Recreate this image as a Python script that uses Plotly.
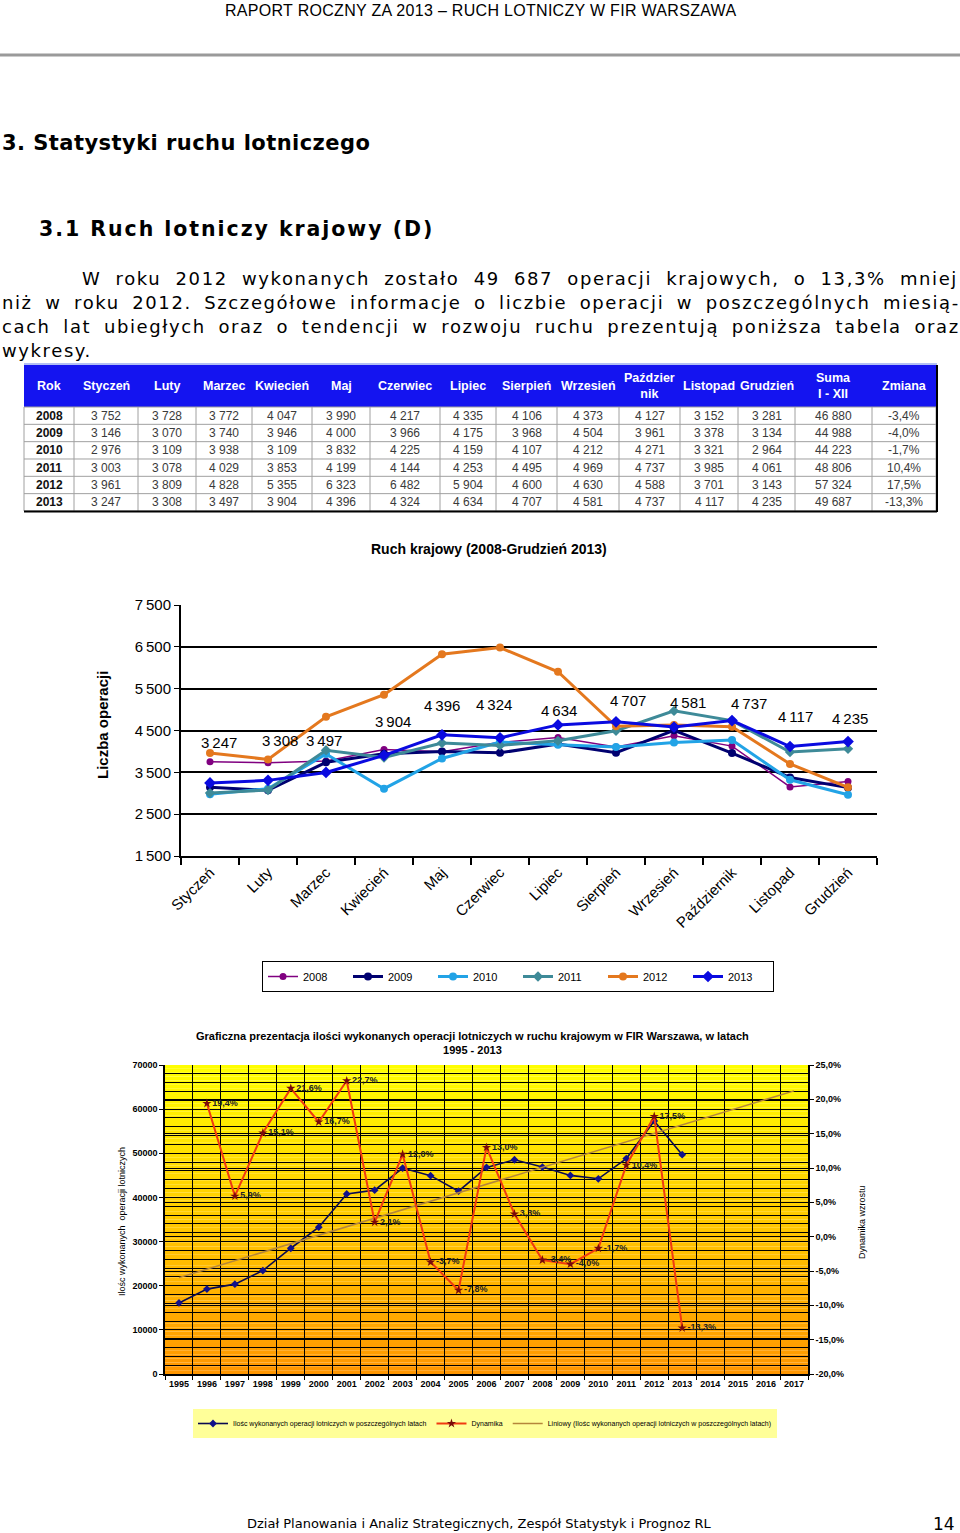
import numpy as np
import plotly.graph_objects as go

W, H = 960, 1533


def px(x):
    return x / W


def py(y):
    return 1 - y / H


# ---------------- data: monthly domestic operations (table + chart 1) ----------------
months = ["Styczeń", "Luty", "Marzec", "Kwiecień", "Maj", "Czerwiec", "Lipiec",
          "Sierpień", "Wrzesień", "Październik", "Listopad", "Grudzień"]
table_headers = ["Rok", "Styczeń", "Luty", "Marzec", "Kwiecień", "Maj", "Czerwiec", "Lipiec",
                 "Sierpień", "Wrzesień", "Paździer<br>nik", "Listopad", "Grudzień",
                 "Suma<br>I - XII", "Zmiana"]
year_labels = ["2008", "2009", "2010", "2011", "2012", "2013"]
ops_2008 = [3752, 3728, 3772, 4047, 3990, 4217, 4335, 4106, 4373, 4127, 3152, 3281]
ops_2009 = [3146, 3070, 3740, 3946, 4000, 3966, 4175, 3968, 4504, 3961, 3378, 3134]
ops_2010 = [2976, 3109, 3938, 3109, 3832, 4225, 4159, 4107, 4212, 4271, 3321, 2964]
ops_2011 = [3003, 3078, 4029, 3853, 4199, 4144, 4253, 4495, 4969, 4737, 3985, 4061]
ops_2012 = [3961, 3809, 4828, 5355, 6323, 6482, 5904, 4600, 4630, 4588, 3701, 3143]
ops_2013 = [3247, 3308, 3497, 3904, 4396, 4324, 4634, 4707, 4581, 4737, 4117, 4235]
year_totals = [46880, 44988, 44223, 48806, 57324, 49687]
year_change = ["-3,4%", "-4,0%", "-1,7%", "10,4%", "17,5%", "-13,3%"]
chart1_yticks = [1500, 2500, 3500, 4500, 5500, 6500, 7500]

# ---------------- data: annual operations (chart 2) ----------------
annual_categories = [str(y) for y in range(1995, 2018)]
annual_years = [str(y) for y in range(1995, 2014)]
annual_ops = [16100, 19230, 20360, 23430, 28490, 33250, 40800, 41650, 46650, 44930,
              41420, 46810, 48530, 46880, 44988, 44223, 48806, 57324, 49687]
growth_years = [str(y) for y in range(1996, 2014)]
growth_pct = [19.4, 5.9, 15.1, 21.6, 16.7, 22.7, 2.1, 12.0, -3.7, -7.8,
              13.0, 3.3, -3.4, -4.0, -1.7, 10.4, 17.5, -13.3]
right_ticks = [-20, -15, -10, -5, 0, 5, 10, 15, 20, 25]

# ---------------- styles ----------------
ARIAL = "Liberation Sans, Arial, sans-serif"
VERD = "DejaVu Sans, Verdana, sans-serif"


def thin(v):
    return f"{v:,}".replace(",", "\u2009")


def spaced(v):
    return f"{v:,}".replace(",", " ")


def pct(v):
    return f"{v:.1f}".replace(".", ",") + "%"


fig = go.Figure()
shapes = []
annotations = []


def pline(x0, y0, x1, y1, color, width):
    shapes.append(dict(type="line", xref="paper", yref="paper", x0=px(x0), x1=px(x1),
                       y0=py(y0), y1=py(y1), line=dict(color=color, width=width)))


def txt(x, y, s, size, family=VERD, bold=False, xanchor="left", color="black", angle=0):
    annotations.append(dict(x=px(x), y=py(y), xref="paper", yref="paper", text=s, showarrow=False,
                            xanchor=xanchor, yanchor="middle", textangle=angle,
                            font=dict(family=family, size=size, color=color,
                                      weight="bold" if bold else "normal")))


# ---------------- table (built from the data arrays) ----------------
col_widths = [50, 64, 58, 56, 60, 58, 70, 56, 61, 62, 61, 58, 57, 77, 64]
TBL_X0, TBL_Y0, HDR_H, ROW_H = 24, 365, 42, 17.33
col_edges = [TBL_X0]
for w in col_widths:
    col_edges.append(col_edges[-1] + w)
tbl_x1 = col_edges[-1]
monthly = [ops_2008, ops_2009, ops_2010, ops_2011, ops_2012, ops_2013]
rows = []
for r, yl in enumerate(year_labels):
    rows.append([f"<b>{yl}</b>"] + [spaced(v) for v in monthly[r]] +
                [spaced(year_totals[r]), year_change[r]])
body_y1 = TBL_Y0 + HDR_H + ROW_H * len(rows)

shapes.append(dict(type="rect", xref="paper", yref="paper", x0=px(TBL_X0), x1=px(tbl_x1),
                   y0=py(TBL_Y0 + HDR_H), y1=py(TBL_Y0), fillcolor="#1414F0",
                   line=dict(width=0), layer="below"))
for c, h in enumerate(table_headers):
    txt((col_edges[c] + col_edges[c + 1]) / 2, TBL_Y0 + HDR_H / 2, f"<b>{h}</b>", 12.5, ARIAL,
        xanchor="center", color="white")
for r in range(len(rows) + 1):
    yy = TBL_Y0 + HDR_H + r * ROW_H
    pline(TBL_X0, yy, tbl_x1, yy, "#a0a0a0", 1)
for e in col_edges:
    pline(e, TBL_Y0 + HDR_H, e, body_y1, "#a0a0a0", 1)
for r, row in enumerate(rows):
    yc = TBL_Y0 + HDR_H + (r + 0.5) * ROW_H
    for c, v in enumerate(row):
        txt((col_edges[c] + col_edges[c + 1]) / 2, yc, v, 12, ARIAL, xanchor="center",
            color="#111111" if c == 0 else "#3a3a3a")
pline(TBL_X0, TBL_Y0 - 1, tbl_x1 + 1, TBL_Y0 - 1, "#9AAAF0", 1.5)
pline(TBL_X0, body_y1 + 0.5, tbl_x1 + 1, body_y1 + 0.5, "black", 2)
pline(tbl_x1 + 1, TBL_Y0, tbl_x1 + 1, body_y1 + 1, "black", 2)

# ---------------- chart 1 ----------------
series1 = [
    ("2008", ops_2008, "#800080", 1.5, "circle", 7),
    ("2009", ops_2009, "#000070", 3, "circle", 8),
    ("2010", ops_2010, "#22A3E6", 3, "circle", 8),
    ("2011", ops_2011, "#3E8A98", 3, "diamond", 8),
    ("2012", ops_2012, "#E4781E", 3, "circle", 8),
    ("2013", ops_2013, "#0A0AE0", 3, "diamond", 9),
]
for name, vals, col, lw, sym, ms in series1:
    fig.add_trace(go.Scatter(x=months, y=vals, name=name, mode="lines+markers",
                             line=dict(color=col, width=lw),
                             marker=dict(symbol=sym, size=ms, color=col),
                             xaxis="x", yaxis="y", legend="legend"))

label_dx = [9, 12, -2, 9, 0, -6, 1, 12, 14, 17, 5, 2]
label_dy = [40, 40, 32, 34, 29, 33, 14, 21, 25, 17, 30, 23]
for i, m in enumerate(months):
    annotations.append(dict(x=m, y=ops_2013[i], xref="x", yref="y", text=thin(ops_2013[i]),
                            showarrow=False, xshift=label_dx[i], yshift=label_dy[i],
                            font=dict(family=ARIAL, size=15, color="black")))

# ---------------- chart 2 ----------------
idx = np.arange(len(annual_ops))
coef = np.polyfit(idx, annual_ops, 1)
trend = np.polyval(coef, np.arange(len(annual_categories)))

fig.add_trace(go.Scatter(x=annual_years, y=annual_ops, mode="lines+markers",
                         name="Ilośc wykonanych operacji lotniczych w poszczególnych latach",
                         line=dict(color="#0A0A50", width=1.6),
                         marker=dict(symbol="diamond", size=6, color="#10108A"),
                         xaxis="x2", yaxis="y2", legend="legend2"))
fig.add_trace(go.Scatter(x=growth_years, y=growth_pct, mode="lines+markers+text",
                         name="Dynamika",
                         text=[pct(v) for v in growth_pct], textposition="middle right",
                         textfont=dict(family=ARIAL, size=9, color="#222222", weight="bold"),
                         line=dict(color="#F03A10", width=2),
                         marker=dict(symbol="star", size=7, color="#7A0A0A"),
                         xaxis="x2", yaxis="y3", legend="legend2"))
fig.add_trace(go.Scatter(x=annual_categories, y=trend, mode="lines",
                         name="Liniowy (Ilośc wykonanych operacji lotniczych w poszczególnych latach)",
                         line=dict(color="#B5863A", width=1.5),
                         xaxis="x2", yaxis="y2", legend="legend2"))

# gradient background for chart 2
N = 80
for i in range(N):
    t = (i + 0.5) / N
    g = int(150 + (255 - 150) * t)
    shapes.append(dict(type="rect", xref="x2", yref="y2", x0=-0.5, x1=22.5,
                       y0=70000 * i / N, y1=70000 * (i + 1) / N,
                       fillcolor=f"rgb(255,{g},0)", line=dict(width=0), layer="below"))

# page header rule
pline(0, 55, 960, 55, "#9a9a9a", 3)

# ---------------- page texts ----------------
txt(480, 10, '<span style="letter-spacing:0.3px">RAPORT ROCZNY ZA 2013 – RUCH LOTNICZY W FIR WARSZAWA</span>',
    16, ARIAL, xanchor="center")
txt(0, 143, '<span style="letter-spacing:0.45px">3. Statystyki ruchu lotniczego</span>', 21, VERD, bold=True)
txt(37, 229, '<span style="letter-spacing:1.95px">3.1 Ruch lotniczy krajowy (D)</span>', 20.5, VERD, bold=True)
txt(80, 279, '<span style="letter-spacing:1.6px;word-spacing:6.9px">W roku 2012 wykonanych zostało 49 687 operacji krajowych, o 13,3% mniej</span>', 18)
txt(0, 303, '<span style="letter-spacing:1.6px;word-spacing:5.2px">niż w roku 2012. Szczegółowe informacje o liczbie operacji w poszczególnych miesią-</span>', 18)
txt(0, 327, '<span style="letter-spacing:1.6px;word-spacing:5.4px">cach lat ubiegłych oraz o tendencji w rozwoju ruchu prezentują poniższa tabela oraz</span>', 18)
txt(0, 351, '<span style="letter-spacing:1.6px">wykresy.</span>', 18)
txt(489, 549, "Ruch krajowy (2008-Grudzień 2013)", 14, ARIAL, bold=True, xanchor="center")
txt(102, 725, "Liczba operacji", 15, ARIAL, bold=True, xanchor="center", angle=-90)
txt(472, 1043, "Graficzna prezentacja ilości wykonanych operacji lotniczych w ruchu krajowym w FIR Warszawa, w latach<br>1995 - 2013",
    11, ARIAL, bold=True, xanchor="center")
txt(122, 1222, "Ilośc wykonanych  operacji lotniczych", 9, ARIAL, xanchor="center", angle=-90)
txt(862, 1222, "Dynamika wzrostu", 9, ARIAL, xanchor="center", angle=-90)
txt(479, 1523, "Dział Planowania i Analiz Strategicznych, Zespół Statystyk i Prognoz RL", 13, VERD,
    xanchor="center")
txt(957, 1524, "14", 17, VERD, xanchor="right")

fig.update_layout(
    width=W, height=H, autosize=False,
    margin=dict(l=0, r=0, t=0, b=0, pad=0),
    paper_bgcolor="white", plot_bgcolor="rgba(0,0,0,0)",
    showlegend=True,
    shapes=shapes, annotations=annotations,
    xaxis=dict(domain=[px(181), px(877)], anchor="y", type="category", categoryorder="array",
               categoryarray=months, range=[-0.5, 11.5], tickson="boundaries", ticks="outside",
               ticklen=7, tickcolor="black", tickwidth=1.5, tickangle=-45, automargin=False,
               tickfont=dict(family=ARIAL, size=15, color="black"),
               showline=True, linecolor="black", linewidth=2, showgrid=False, zeroline=False),
    yaxis=dict(domain=[py(856), py(605)], anchor="x", range=[1500, 7500], automargin=False,
               tickvals=chart1_yticks, ticktext=[thin(v) for v in chart1_yticks],
               tickfont=dict(family=ARIAL, size=15, color="black"),
               showgrid=True, gridcolor="black", gridwidth=1.5, showline=True, linecolor="black",
               linewidth=2, ticks="outside", ticklen=5, tickcolor="black", zeroline=False),
    xaxis2=dict(domain=[px(165), px(808)], anchor="y2", type="category", categoryorder="array",
                categoryarray=annual_categories, range=[-0.5, 22.5], tickson="boundaries",
                ticks="outside", ticklen=4, tickcolor="black", tickangle=0, automargin=False,
                tickfont=dict(family=ARIAL, size=9, color="black", weight="bold"),
                showgrid=True, gridcolor="black", gridwidth=1, showline=True, linecolor="black",
                linewidth=1.5, zeroline=False),
    yaxis2=dict(domain=[py(1374), py(1065)], anchor="x2", range=[0, 70000], dtick=10000,
                automargin=False,
                tickformat="d", tickfont=dict(family=ARIAL, size=9, color="black", weight="bold"),
                showgrid=True, gridcolor="black", gridwidth=1,
                minor=dict(dtick=2000, showgrid=True, gridcolor="black", gridwidth=0.8),
                showline=True, linecolor="black", linewidth=1.5, ticks="outside", ticklen=4,
                tickcolor="black", zeroline=False),
    yaxis3=dict(overlaying="y2", side="right", anchor="x2", range=[-20, 25], automargin=False,
                tickvals=right_ticks, ticktext=[pct(v) for v in right_ticks],
                tickfont=dict(family=ARIAL, size=9, color="black", weight="bold"),
                showgrid=True, gridcolor="black", gridwidth=1, showline=True, linecolor="black",
                linewidth=1.5, ticks="outside", ticklen=4, tickcolor="black", zeroline=False),
    legend=dict(orientation="h", x=px(518), y=py(961), xanchor="center", yanchor="top",
                bordercolor="black", borderwidth=1, bgcolor="white",
                font=dict(family=ARIAL, size=11, color="black"),
                entrywidth=40, entrywidthmode="pixels", itemwidth=30, tracegroupgap=0),
    legend2=dict(orientation="h", x=px(485), y=py(1409), xanchor="center", yanchor="top",
                 bgcolor="#FFFF99", borderwidth=0,
                 font=dict(family=ARIAL, size=7, color="black"), itemwidth=30),
)

fig.write_html("out.html", config={"displayModeBar": False},
               post_script="document.body.style.margin='0';document.body.style.overflow='hidden';")
